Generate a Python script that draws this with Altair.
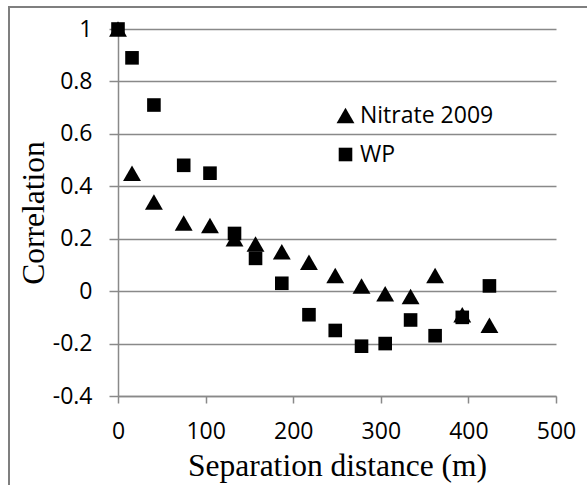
import altair as alt
import pandas as pd

# Separation distances (m) and correlation values for each series
distance = [0, 16, 41, 75, 105, 133, 157, 187, 218, 248, 278, 305, 334, 362, 393, 424]
nitrate_2009 = [1.0, 0.45, 0.34, 0.26, 0.25, 0.20, 0.18, 0.15, 0.11, 0.06, 0.02, -0.01, -0.02, 0.06, -0.09, -0.13]
wp = [1.0, 0.89, 0.71, 0.48, 0.45, 0.22, 0.125, 0.03, -0.09, -0.15, -0.21, -0.20, -0.11, -0.17, -0.10, 0.02]
series_names = ["Nitrate 2009", "WP"]
x_ticks = [0, 100, 200, 300, 400, 500]
y_ticks = [-0.4, -0.2, 0, 0.2, 0.4, 0.6, 0.8, 1]

rows = []
for name, values in zip(series_names, [nitrate_2009, wp]):
    for d, v in zip(distance, values):
        rows.append({"distance": d, "correlation": v, "series": name})
df = pd.DataFrame(rows)

GRID = "#898989"
FRAME = "#7f7f7f"
LABEL_FONT = "Open Sans"
TITLE_FONT = "Liberation Serif"

legend_style = dict(
    title=None, orient="none", legendX=216, legendY=75,
    labelFont=LABEL_FONT, labelFontSize=23, labelColor="black",
    symbolFillColor="black", symbolStrokeWidth=0, symbolOpacity=1,
    rowPadding=15, labelOffset=3, padding=0,
)

points = alt.Chart(df).mark_point(filled=True, opacity=1, color="black", strokeWidth=0).encode(
    x=alt.X(
        "distance:Q",
        scale=alt.Scale(domain=[0, 500], nice=False, zero=False),
        axis=alt.Axis(
            values=x_ticks, grid=False, title="Separation distance (m)",
            domain=True, domainColor=GRID, domainWidth=1.5,
            ticks=True, tickColor=GRID, tickWidth=1.5, tickSize=7,
            labelFlush=False, labelOverlap=False,
            labelFont=LABEL_FONT, labelFontSize=23, labelColor="black", labelPadding=17,
            titleFont=TITLE_FONT, titleFontSize=31.5, titleFontWeight="normal", titleColor="black",
            titleBaseline="alphabetic", titleY=79,
        ),
    ),
    y=alt.Y(
        "correlation:Q",
        scale=alt.Scale(domain=[-0.4, 1], nice=False, zero=False),
        axis=alt.Axis(
            values=y_ticks, grid=True, gridColor=GRID, gridWidth=1.5, title="Correlation",
            domain=True, domainColor=GRID, domainWidth=1.5,
            ticks=True, tickColor=GRID, tickWidth=1.5, tickSize=9,
            labelFlush=False, labelOverlap=False,
            format="~g", labelExpr="replace(datum.label, '\u2212', '-')",
            labelFont=LABEL_FONT, labelFontSize=23, labelColor="black", labelPadding=17,
            titleFont=TITLE_FONT, titleFontSize=31.5, titleFontWeight="normal", titleColor="black",
            titleBaseline="alphabetic", titleAngle=-90, titleX=-75,
        ),
    ),
    shape=alt.Shape(
        "series:N",
        scale=alt.Scale(domain=series_names, range=["triangle-up", "square"]),
        legend=alt.Legend(**legend_style),
    ),
    size=alt.Size(
        "series:N",
        scale=alt.Scale(domain=series_names, range=[320, 185]),
        legend=alt.Legend(**legend_style),
    ),
)

# Left and top edges of the outer chart frame
anchor = pd.DataFrame({"k": [0]})
frame_left = alt.Chart(anchor).mark_rule(color=FRAME, strokeWidth=2, clip=False).encode(
    x=alt.value(-109), y=alt.value(-23), y2=alt.value(600),
)
frame_top = alt.Chart(anchor).mark_rule(color=FRAME, strokeWidth=2, clip=False).encode(
    x=alt.value(-110), x2=alt.value(600), y=alt.value(-22),
)

chart = alt.layer(frame_left, frame_top, points).properties(
    width=438,
    height=367,
    padding={"left": 118, "top": 29, "right": 31, "bottom": 89},
    autosize=alt.AutoSizeParams(type="none"),
    background="white",
).configure_view(stroke=None)

chart.save("out.html", embed_options={"renderer": "svg", "actions": False})
